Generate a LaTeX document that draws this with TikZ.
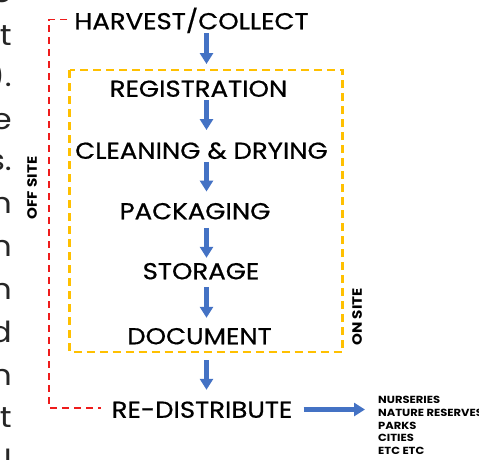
\documentclass[tikz,border=0pt]{standalone}
\usepackage{fontspec}
\setmainfont{Poppins}[FakeStretch=1.12]
\newfontfamily\stagefont{Poppins}[FakeStretch=1.13, FakeBold=0.7]
\usetikzlibrary{arrows.meta}
\definecolor{flowblue}{HTML}{4472C4}
\definecolor{onsitecol}{HTML}{FFC000}
\definecolor{offsitecol}{HTML}{EE1C1C}

\begin{document}
\begin{tikzpicture}[x=1pt, y=-1pt,
    stage/.style={inner sep=0pt, font=\stagefont\fontsize{23}{23}\selectfont, text height=16.5pt, text depth=0pt},
    side/.style={inner sep=0pt, font=\fontsize{13.5}{13.5}\selectfont\bfseries, rotate=90},
    frag/.style={inner sep=0pt, anchor=base east, font=\fontsize{29}{29}\selectfont, text=black!85},
    flow/.style={draw=flowblue, line width=4.5pt, -{Triangle[width=13pt,length=11pt]}},
    onsite/.style={draw=onsitecol, line width=2.5pt, dash pattern=on 8pt off 5pt},
    offsite/.style={draw=offsitecol, line width=1.5pt, dash pattern=on 7pt off 5pt}]
    \useasboundingbox (0,0) rectangle (479,459);
    \def \sx {206.5}
    \coordinate (spine) at (\sx,0);
    % cut-off paragraph on the left
    \foreach \ch/\y in {e/2.5, t/45, )./86, e/129, s./170, n/213, n/256, n/299, d/342, n/385, t/427, l/470}
        \node[frag] at (12,\y) {\ch};
    % stages
    \node[stage] (harvest) at (191.5,21) {HARVEST/COLLECT};
    \node[stage] (reg) at (198.5,88.5) {REGISTRATION};
    \node[stage] (clean) at (201.5,150.5) {CLEANING \& DRYING};
    \node[stage] (pack) at (195,211) {PACKAGING};
    \node[stage] (store) at (201,271) {STORAGE};
    \node[stage] (doc) at (199.5,336) {DOCUMENT};
    \node[stage] (redist) at (202,409.5) {RE-DISTRIBUTE};
    \draw[flow] ([yshift=-3.75pt]harvest.south -| spine) -- ([yshift=16pt]reg.north -| spine);
    \draw[flow] ([yshift=-3.25pt]reg.south -| spine) -- ([yshift=12pt]clean.north -| spine);
    \draw[flow] ([yshift=-3pt]clean.south -| spine) -- ([yshift=11pt]pack.north -| spine);
    \draw[flow] ([yshift=-8.5pt]pack.south -| spine) -- ([yshift=4.75pt]store.north -| spine);
    \draw[flow] ([yshift=-7.75pt]store.south -| spine) -- ([yshift=9.75pt]doc.north -| spine);
    \draw[flow] ([yshift=-15.75pt]doc.south -| spine) -- ([yshift=11.25pt]redist.north -| spine);
    % on site box
    \draw[onsite] (69.5,70) rectangle (342.5,352);
    \node[side] (on) at (357,317) {ON SITE};
    % off site bracket
    \coordinate (offl) at (49,0);
    \draw[offsite] ([xshift=-7pt,yshift=1.5pt]harvest.west) -| ([yshift=1.5pt]offl |- redist.west) -- ([xshift=-10pt,yshift=1.5pt]redist.west);
    \node[side] (off) at (32,188) {OFF SITE};
    % where it goes
    \node[inner sep=0pt, anchor=north west, align=left, font=\fontsize{10.3}{12.8}\selectfont\bfseries] (dest) at (378,396)
        {NURSERIES\\NATURE RESERVES\\PARKS\\CITIES\\ETC ETC};
    \draw[flow] ([xshift=11pt]redist.east) -- ([xshift=-13pt]dest.west |- redist.east);
\end{tikzpicture}
\end{document}
